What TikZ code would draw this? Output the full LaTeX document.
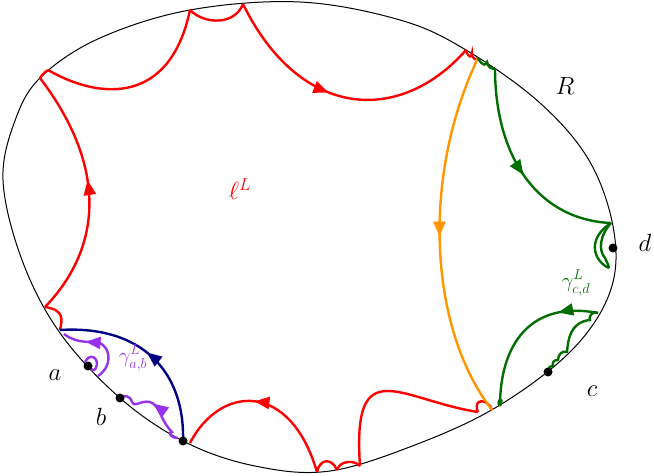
\documentclass[tikz,border=0pt]{standalone}
\usepackage{amsmath}
\usetikzlibrary{arrows.meta}
\usetikzlibrary{decorations.markings}
\definecolor{dgreen}{RGB}{0,110,0}
\definecolor{dnavy}{RGB}{0,0,130}
\definecolor{lpurple}{RGB}{150,50,235}
\definecolor{lorange}{RGB}{255,150,0}
\tikzset{
  geod/.style={line width=2.4pt},
  midarrow/.style={postaction={decorate},decoration={markings,
    mark=at position #1 with {\arrow{Triangle[length=15pt,width=12pt]}}}},
  dot/.style={circle,fill=black,inner sep=0pt,minimum size=9pt},
  lab/.style={inner sep=0.75pt,font=\fontsize{24}{28}\selectfont},
  glab/.style={inner sep=0.75pt,font=\fontsize{21}{25}\selectfont}
}
\begin{document}
\begin{tikzpicture}[x=1pt,y=1pt,yscale=-1]
\useasboundingbox (0,0) rectangle (654,476);

% boundary
\draw [line width=1pt] plot [smooth cycle,tension=0.6] coordinates {(3,180) (16,118) (42,76) (100,38) (190,10) (300,2) (400,20) (466,50) (540,103) (590,162) (614,232) (610,292) (572,350) (500,405) (420,443) (330,471) (255,466) (185,442) (120,398) (60,333) (22,260)};

% points on the boundary
\coordinate (l1) at (40,78);
\coordinate (l2) at (48,70);
\coordinate (t1) at (190,10);
\coordinate (t2) at (243,4);
\coordinate (t3) at (466,50);
\coordinate (t4) at (478,58);
\coordinate (g1) at (495,68);
\coordinate (g2) at (611,223);
\coordinate (g3) at (609,268);
\coordinate (g4) at (598,313);
\coordinate (g5) at (500,406);
\coordinate (o1) at (492,410);
\coordinate (r1) at (478,412);
\coordinate (b1) at (360,466);
\coordinate (b2) at (337,470);
\coordinate (b3) at (317,472);
\coordinate (b4) at (190,443);
\coordinate (s1) at (45,307);
\coordinate (s2) at (60,330);

% red
\draw [geod,red] (l2) .. controls (100,100) and (170,105) .. (t1);
\draw [geod,red] (t1) .. controls (205,25) and (235,25) .. (t2);
\draw [geod,red,midarrow=0.45] (t2) .. controls (300,120) and (400,125) .. (t3);
\draw [geod,red] (t3) .. controls (468,58) and (472,58) .. (472,53) .. controls (472,60) and (477,60) .. (t4);
\draw [geod,red] (l1) .. controls (44,72) and (46,72) .. (l2);
\draw [geod,red,midarrow=0.55] (s1) .. controls (100,250) and (110,170) .. (l1);
\draw [geod,red] (s1) .. controls (65,310) and (62,320) .. (s2);
\draw [geod,red,midarrow=0.55] (b3) .. controls (290,380) and (220,385) .. (b4);
\draw [geod,red] (b3) .. controls (320,458) and (332,458) .. (b2);
\draw [geod,red] (b2) .. controls (340,460) and (355,460) .. (b1);
\draw [geod,red] (b1) .. controls (352,350) and (400,400) .. (r1);
\draw [geod,red] (r1) .. controls (472,398) and (488,398) .. (o1);

% orange
\draw [geod,lorange,midarrow=0.5] (t4) .. controls (420,180) and (430,330) .. (o1);

% green
\draw [geod,dgreen] (t4) .. controls (482,66) and (486,66) .. (487,62) .. controls (488,68) and (493,70) .. (g1);
\draw [geod,dgreen,midarrow=0.52] (g1) .. controls (495,160) and (540,220) .. (g2);
\draw [geod,dgreen] (g2) .. controls (585,240) and (595,262) .. (g3);
\draw [geod,dgreen] (g2) .. controls (600,235) and (598,250) .. (605,258) .. controls (606,262) and (608,262) .. (g3);
\draw [geod,dgreen,midarrow=0.25] (g4) .. controls (530,300) and (500,345) .. (g5);
\draw [geod,dgreen] (g5) .. controls (495,400) and (505,395) .. (500,406);
\draw [geod,dgreen] (g4) .. controls (592,310) and (588,318) .. (590,320) .. controls (570,322) and (568,340) .. (567,352)
  .. controls (562,350) and (558,355) .. (558,360) .. controls (554,360) and (552,362) .. (553,366) .. controls (549,366) and (548,369) .. (548,372);

% navy
\draw [geod,dnavy,midarrow=0.52] (183,441) .. controls (185,370) and (140,325) .. (s2);

% purple
\draw [geod,lpurple,midarrow=0.7] (98,376) .. controls (115,365) and (110,340) .. (92,342) .. controls (80,342) and (72,340) .. (64,334);
\draw [geod,lpurple] (85,362) .. controls (90,352) and (100,358) .. (96,368) .. controls (94,372) and (91,370) .. (89,366);
\draw [geod,lpurple,midarrow=0.55] (178,438) .. controls (170,438) and (168,432) .. (172,432) .. controls (160,420) and (160,405) .. (150,402)
  .. controls (140,400) and (135,408) .. (132,402) .. controls (130,395) and (124,395) .. (120,398);

% marked points
\node [dot] (pa) at (88,366) {};
\node [dot] (pb) at (120,398) {};
\node [dot] (pc) at (548,372) {};
\node [dot] (pd) at (613,248) {};
\node [dot] (pe) at (183,441) {};

% labels
\node [lab] (la) at (55,375) {$a$};
\node [lab] (lb) at (101,417) {$b$};
\node [lab] (lc) at (592,391) {$c$};
\node [lab] (ld) at (645,243) {$d$};
\node [lab] (lR) at (565,86) {$R$};
\node [lab,red] (lell) at (240,189) {$\ell^L$};
\node [glab,lpurple] (lgab) at (133,358) {$\gamma^L_{a,b}$};
\node [glab,dgreen] (lgcd) at (576,283) {$\gamma^L_{c,d}$};
\end{tikzpicture}
\end{document}
